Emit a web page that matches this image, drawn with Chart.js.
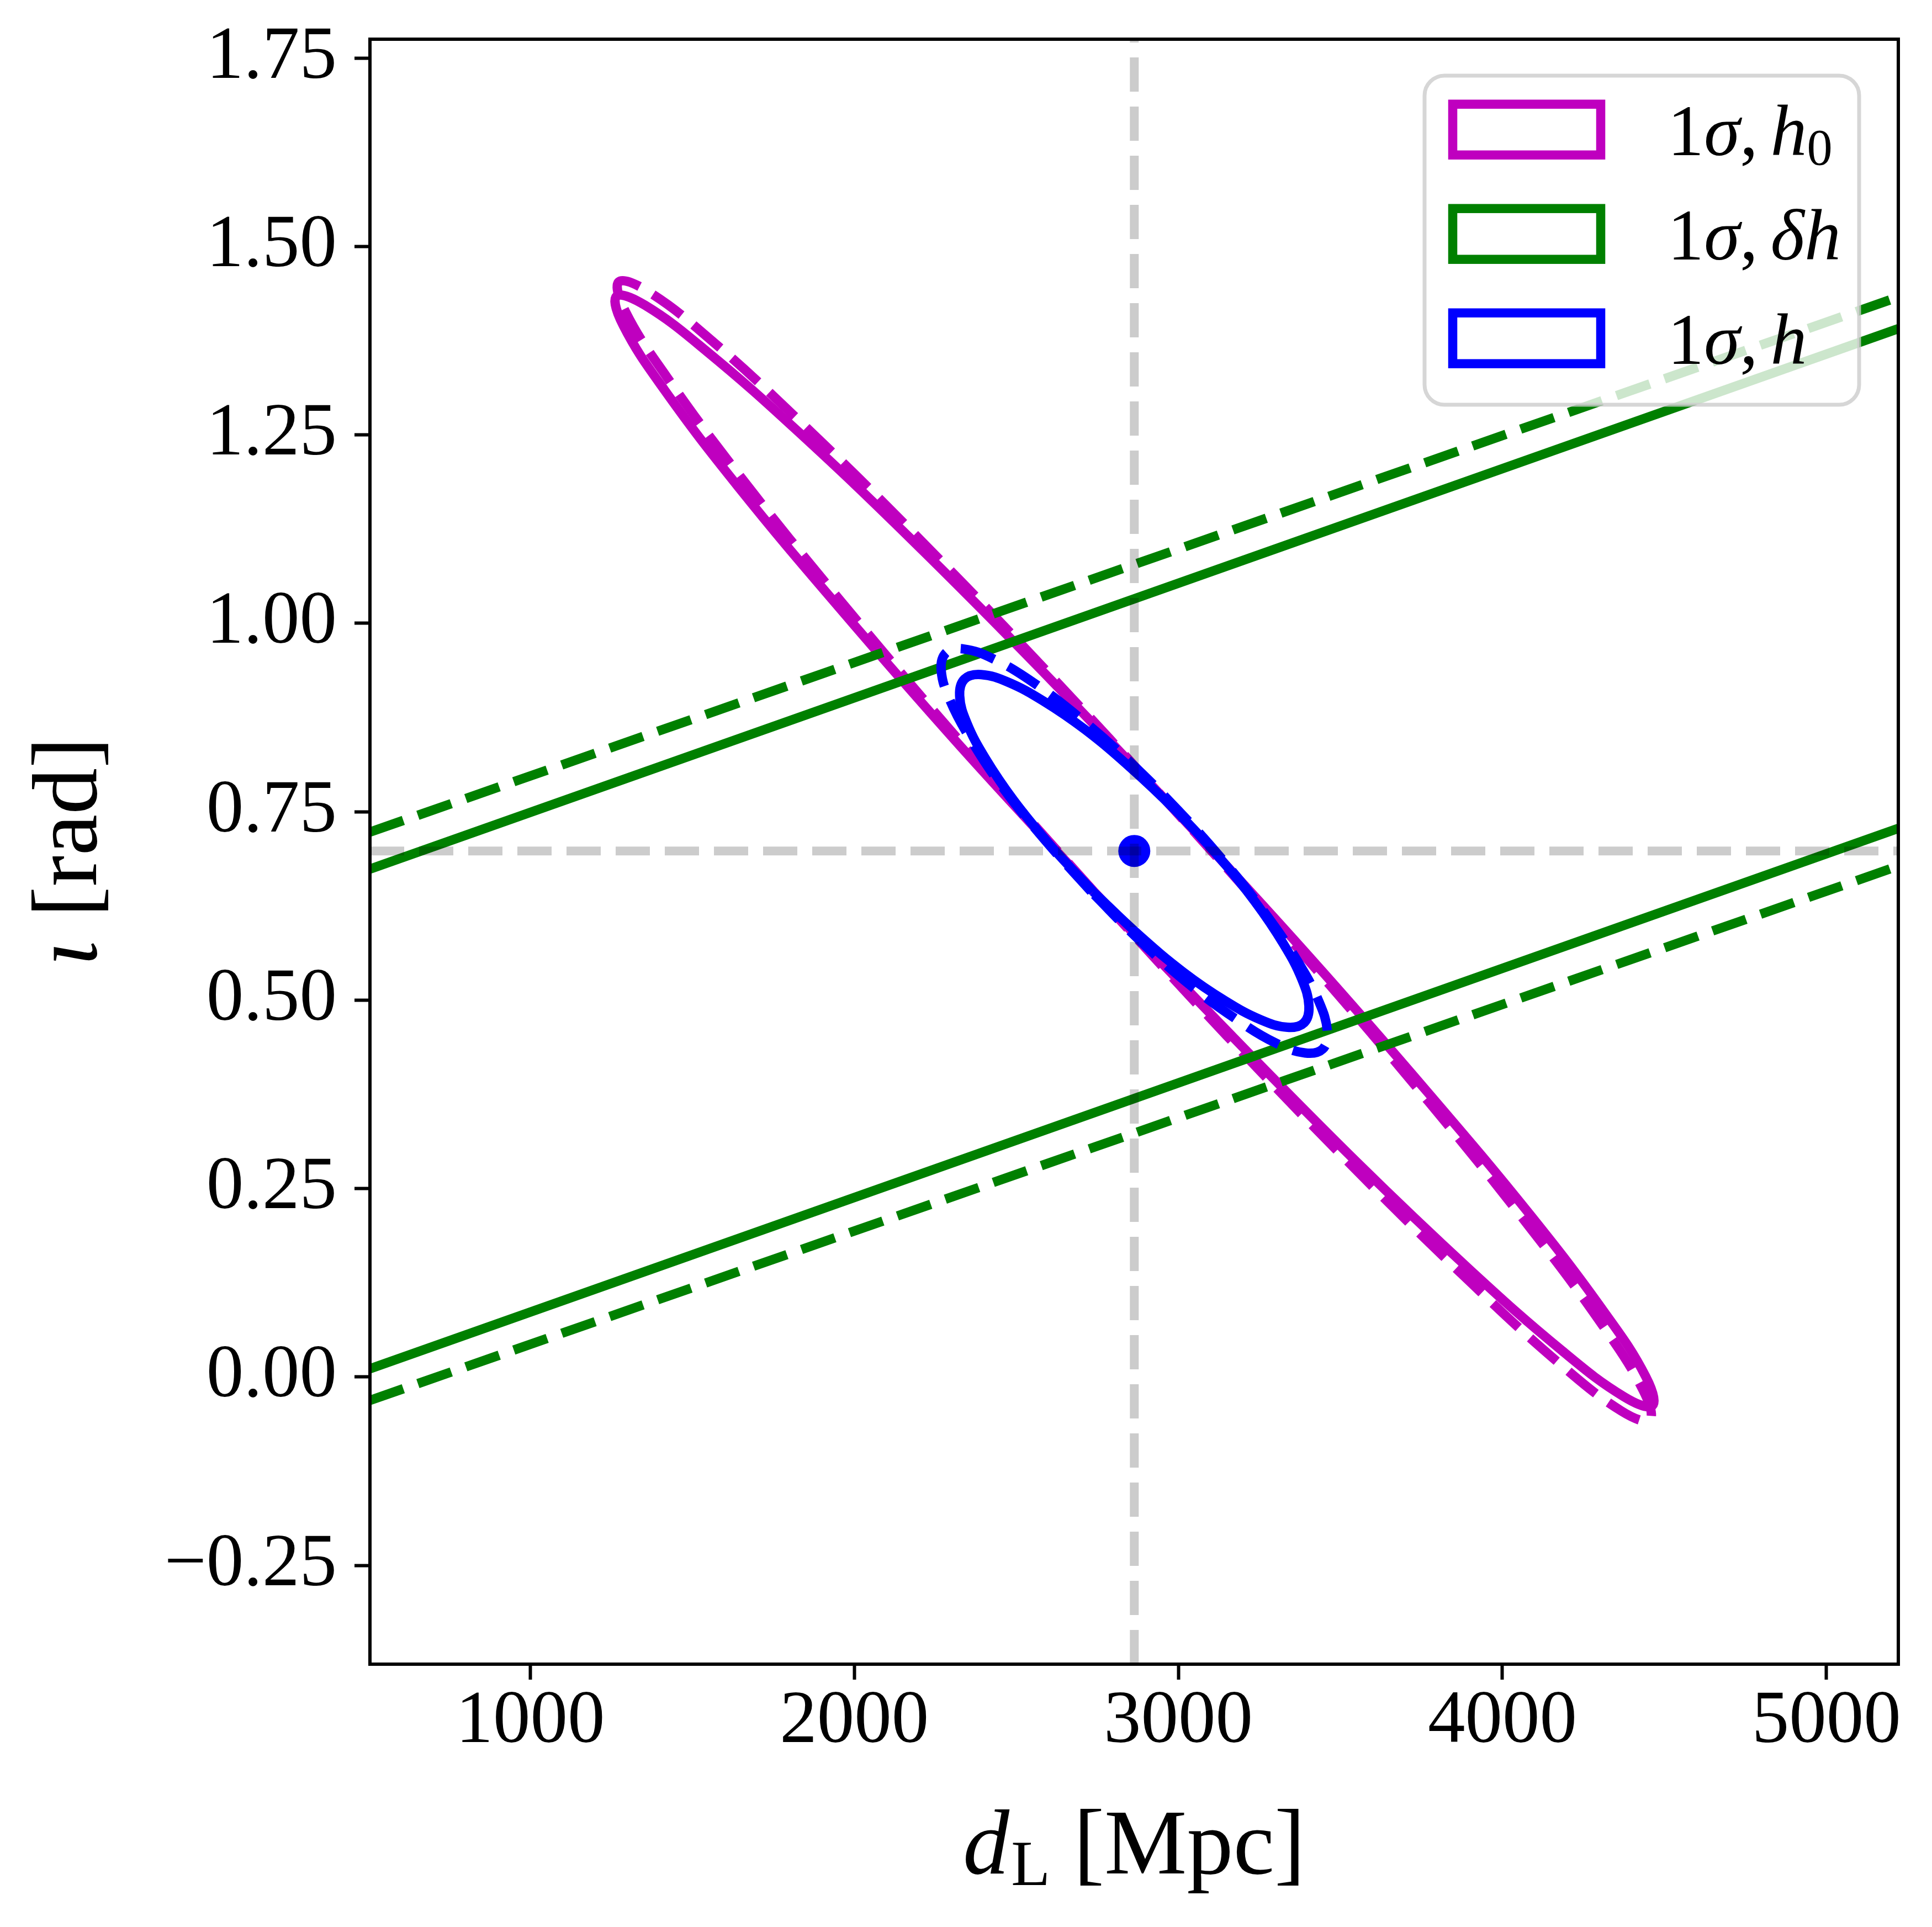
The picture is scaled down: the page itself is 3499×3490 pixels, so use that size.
<!DOCTYPE html>
<html>
<head>
<meta charset="utf-8">
<script src="https://cdn.jsdelivr.net/npm/chart.js@4.4.1/dist/chart.umd.min.js"></script>
<style>
  html, body { margin: 0; padding: 0; background: #fff; }
  #wrap { width: 3499px; height: 3490px; position: relative; }
</style>
</head>
<body>
<div id="wrap"><canvas id="ellipse-chart"></canvas></div>
<script>
// ---------------------------------------------------------------------------
// data: d_L [Mpc] on x, iota [rad] on y
// ---------------------------------------------------------------------------
var dL_ticks = [1000, 2000, 3000, 4000, 5000];
var iota_ticks = [-0.25, 0.00, 0.25, 0.50, 0.75, 1.00, 1.25, 1.50, 1.75];
var dL_range = [505, 5222];
var iota_range = [-0.381, 1.775];

// injected (true) values
var dL_true = 2864;
var iota_true = 0.698;

// 1 sigma, h0 (magenta) - contour outlines
var h0_solid = [
    [2735, 0.646], [2325, 0.838], [1953, 1.021], [1642, 1.181], [1415, 1.309],
    [1287, 1.395], [1266, 1.434], [1354, 1.422], [1544, 1.361], [1825, 1.255],
    [2177, 1.111], [2575, 0.939], [2994, 0.750], [3403, 0.558], [3775, 0.375],
    [4086, 0.215], [4313, 0.087], [4442, 0.001], [4463, -0.038], [4375, -0.026],
    [4184, 0.035], [3903, 0.141], [3551, 0.285], [3153, 0.458], [2735, 0.646]
];
var h0_dashed = [
    [2733, 0.647], [2325, 0.844], [1955, 1.031], [1646, 1.196], [1421, 1.327],
    [1293, 1.414], [1273, 1.453], [1361, 1.441], [1552, 1.378], [1832, 1.268],
    [2182, 1.120], [2579, 0.943], [2995, 0.749], [3403, 0.552], [3773, 0.365],
    [4082, 0.200], [4307, 0.070], [4435, -0.018], [4455, -0.057], [4367, -0.045],
    [4176, 0.018], [3896, 0.128], [3546, 0.276], [3149, 0.453], [2733, 0.647]
];

// 1 sigma, delta h (green) - only the two long sides are inside the axes
var dh_solid_upper = [[505, 0.674], [5222, 1.391]];
var dh_solid_lower = [[505, 0.011], [5222, 0.728]];
var dh_dashed_upper = [[505, 0.723], [5222, 1.433]];
var dh_dashed_lower = [[505, -0.031], [5222, 0.678]];

// 1 sigma, h (blue)
var h_solid = [
    [2737, 0.644], [2606, 0.705], [2492, 0.765], [2404, 0.821], [2347, 0.868],
    [2325, 0.904], [2340, 0.926], [2391, 0.932], [2474, 0.922], [2583, 0.897],
    [2712, 0.859], [2851, 0.809], [2991, 0.752], [3123, 0.691], [3236, 0.631],
    [3324, 0.575], [3381, 0.528], [3403, 0.492], [3388, 0.470], [3337, 0.464],
    [3254, 0.474], [3145, 0.499], [3016, 0.537], [2877, 0.587], [2737, 0.644]
];
var h_dashed = [
    [2731, 0.644], [2585, 0.714], [2458, 0.782], [2359, 0.846], [2294, 0.899],
    [2268, 0.938], [2283, 0.961], [2337, 0.966], [2428, 0.953], [2547, 0.923],
    [2689, 0.877], [2843, 0.819], [2997, 0.753], [3143, 0.683], [3270, 0.614],
    [3369, 0.551], [3434, 0.498], [3460, 0.458], [3445, 0.435], [3391, 0.430],
    [3301, 0.443], [3181, 0.474], [3039, 0.519], [2886, 0.577], [2731, 0.644]
];

// ---------------------------------------------------------------------------
var MAGENTA = "#bf00bf";
var GREEN = "#008000";
var BLUE = "#0000ff";
var REF = "rgba(0,0,0,0.2)";
var DASH = [64, 28];
var LW = 17;
var SERIF = "'Liberation Serif', 'Times New Roman', serif";

function xy(pts) {
    return pts.map(function (p) { return {x: p[0], y: p[1]}; });
}

function curve(pts, color, dashed, order, tension) {
    return {
        data: xy(pts),
        showLine: true,
        borderColor: color,
        borderWidth: LW,
        borderDash: dashed ? DASH : [],
        borderCapStyle: 'butt',
        borderJoinStyle: 'round',
        tension: tension,
        pointRadius: 0,
        pointHoverRadius: 0,
        fill: false,
        order: order
    };
}

function fontStr(style, size) {
    return (style === 'i' ? 'italic ' : '') + size + 'px ' + SERIF;
}

function richWidth(ctx, parts, size) {
    var w = 0;
    parts.forEach(function (p) {
        ctx.font = fontStr(p.s, size * (p.k || 1));
        w += ctx.measureText(p.t).width + (p.gap || 0) * size;
    });
    return w;
}

function drawRich(ctx, parts, x, y, size) {
    parts.forEach(function (p) {
        ctx.font = fontStr(p.s, size * (p.k || 1));
        ctx.fillText(p.t, x, y + (p.dy || 0) * size);
        x += ctx.measureText(p.t).width + (p.gap || 0) * size;
    });
}

// axis titles, top/right spines and the legend box
var decor = {
    id: 'decor',
    afterDraw: function (chart) {
        var ctx = chart.ctx;
        var a = chart.chartArea;
        ctx.save();

        // full frame like matplotlib
        ctx.strokeStyle = '#000';
        ctx.lineWidth = 6;
        ctx.strokeRect(a.left, a.top, a.right - a.left, a.bottom - a.top);

        // legend
        var lx = 2580, ly = 137, lw = 787, lh = 596, r = 36;
        ctx.beginPath();
        ctx.moveTo(lx + r, ly);
        ctx.arcTo(lx + lw, ly, lx + lw, ly + lh, r);
        ctx.arcTo(lx + lw, ly + lh, lx, ly + lh, r);
        ctx.arcTo(lx, ly + lh, lx, ly, r);
        ctx.arcTo(lx, ly, lx + lw, ly, r);
        ctx.closePath();
        ctx.fillStyle = 'rgba(255,255,255,0.8)';
        ctx.fill();
        ctx.strokeStyle = 'rgba(204,204,204,0.8)';
        ctx.lineWidth = 7;
        ctx.stroke();

        var rows = [
            {c: MAGENTA, parts: [{t: '1', s: 'r'}, {t: '\u03c3', s: 'i'}, {t: ',', s: 'r', gap: 0.17},
                                 {t: 'h', s: 'i'}, {t: '0', s: 'r', k: 0.7, dy: 0.13}]},
            {c: GREEN, parts: [{t: '1', s: 'r'}, {t: '\u03c3', s: 'i'}, {t: ',', s: 'r', gap: 0.17},
                               {t: '\u03b4', s: 'i'}, {t: 'h', s: 'i'}]},
            {c: BLUE, parts: [{t: '1', s: 'r'}, {t: '\u03c3', s: 'i'}, {t: ',', s: 'r', gap: 0.17},
                              {t: 'h', s: 'i'}]}
        ];
        ctx.textAlign = 'left';
        ctx.textBaseline = 'alphabetic';
        rows.forEach(function (row, i) {
            var cy = 234.7 + i * 189;
            ctx.strokeStyle = row.c;
            ctx.lineWidth = 16.5;
            ctx.strokeRect(2631, cy - 46, 268, 92);
            ctx.fillStyle = '#000';
            drawRich(ctx, row.parts, 3020, cy + 46.5, 132);
        });

        // x title: d_L [Mpc]
        var size = 168;
        var xt = [{t: 'd', s: 'i', gap: 0.02}, {t: 'L', s: 'r', k: 0.69, dy: 0.125}, {t: ' [Mpc]', s: 'r'}];
        var w = richWidth(ctx, xt, size);
        ctx.fillStyle = '#000';
        drawRich(ctx, xt, (a.left + a.right) / 2 - w / 2, 3393, size);

        // y title: iota [rad]
        var yt = [{t: '\u03b9', s: 'i'}, {t: ' [rad]', s: 'r'}];
        var wy = richWidth(ctx, yt, size);
        ctx.translate(174, (a.top + a.bottom) / 2);
        ctx.rotate(-Math.PI / 2);
        drawRich(ctx, yt, -wy / 2, 0, size);

        ctx.restore();
    }
};

var datasets = [
    {
        data: [{x: dL_true, y: iota_range[0]}, {x: dL_true, y: iota_range[1]}],
        showLine: true, borderColor: REF, borderWidth: 16, borderDash: [62, 27],
        borderCapStyle: 'butt', pointRadius: 0, tension: 0, order: 0
    },
    {
        data: [{x: dL_range[0], y: iota_true}, {x: dL_range[1], y: iota_true}],
        showLine: true, borderColor: REF, borderWidth: 16, borderDash: [62, 27],
        borderCapStyle: 'butt', pointRadius: 0, tension: 0, order: 0
    },
    {
        data: [{x: dL_true, y: iota_true}],
        showLine: false, pointRadius: 29, pointBackgroundColor: BLUE,
        pointBorderWidth: 0, pointBorderColor: BLUE, order: 1
    },
    curve(h_dashed, BLUE, true, 2, 0.4),
    curve(h_solid, BLUE, false, 3, 0.4),
    curve(dh_dashed_upper, GREEN, true, 4, 0),
    curve(dh_dashed_lower, GREEN, true, 4, 0),
    curve(dh_solid_upper, GREEN, false, 5, 0),
    curve(dh_solid_lower, GREEN, false, 5, 0),
    curve(h0_dashed, MAGENTA, true, 6, 0.4),
    curve(h0_solid, MAGENTA, false, 7, 0.4)
];

var tickFont = {family: SERIF, size: 135, lineHeight: 1};

var ellipse_chart_config = {
    type: 'scatter',
    data: {datasets: datasets},
    options: {
        responsive: true,
        maintainAspectRatio: false,
        animation: false,
        devicePixelRatio: 1,
        layout: {padding: {left: 0, top: 71, right: 61, bottom: 0}},
        plugins: {
            legend: {display: false},
            tooltip: {enabled: false}
        },
        scales: {
            x: {
                type: 'linear',
                position: 'bottom',
                min: dL_range[0],
                max: dL_range[1],
                afterBuildTicks: function (s) {
                    s.ticks = dL_ticks.map(function (v) { return {value: v}; });
                },
                afterFit: function (s) {
                    s.height = 476;
                    s.paddingLeft = 0;
                    s.paddingRight = 0;
                },
                ticks: {
                    font: tickFont, color: '#000', padding: 10,
                    maxRotation: 0, autoSkip: false,
                    callback: function (v) { return String(v); }
                },
                grid: {
                    display: true, drawOnChartArea: false, drawTicks: true,
                    tickLength: 28, tickWidth: 6, tickColor: '#000'
                },
                border: {display: true, color: '#000', width: 6}
            },
            y: {
                type: 'linear',
                position: 'left',
                min: iota_range[0],
                max: iota_range[1],
                afterBuildTicks: function (s) {
                    s.ticks = iota_ticks.map(function (v) { return {value: v}; });
                },
                afterFit: function (s) {
                    s.width = 670;
                    s.paddingTop = 0;
                    s.paddingBottom = 0;
                },
                ticks: {
                    font: tickFont, color: '#000', padding: 32, autoSkip: false,
                    callback: function (v) {
                        return (v < 0 ? '\u2212' : '') + Math.abs(v).toFixed(2);
                    }
                },
                grid: {
                    display: true, drawOnChartArea: false, drawTicks: true,
                    tickLength: 28, tickWidth: 6, tickColor: '#000'
                },
                border: {display: true, color: '#000', width: 6}
            }
        }
    },
    plugins: [decor]
};

var ellipse_chart_ctx = document.getElementById("ellipse-chart").getContext("2d");

new Chart(ellipse_chart_ctx, ellipse_chart_config);
</script>
</body>
</html>
